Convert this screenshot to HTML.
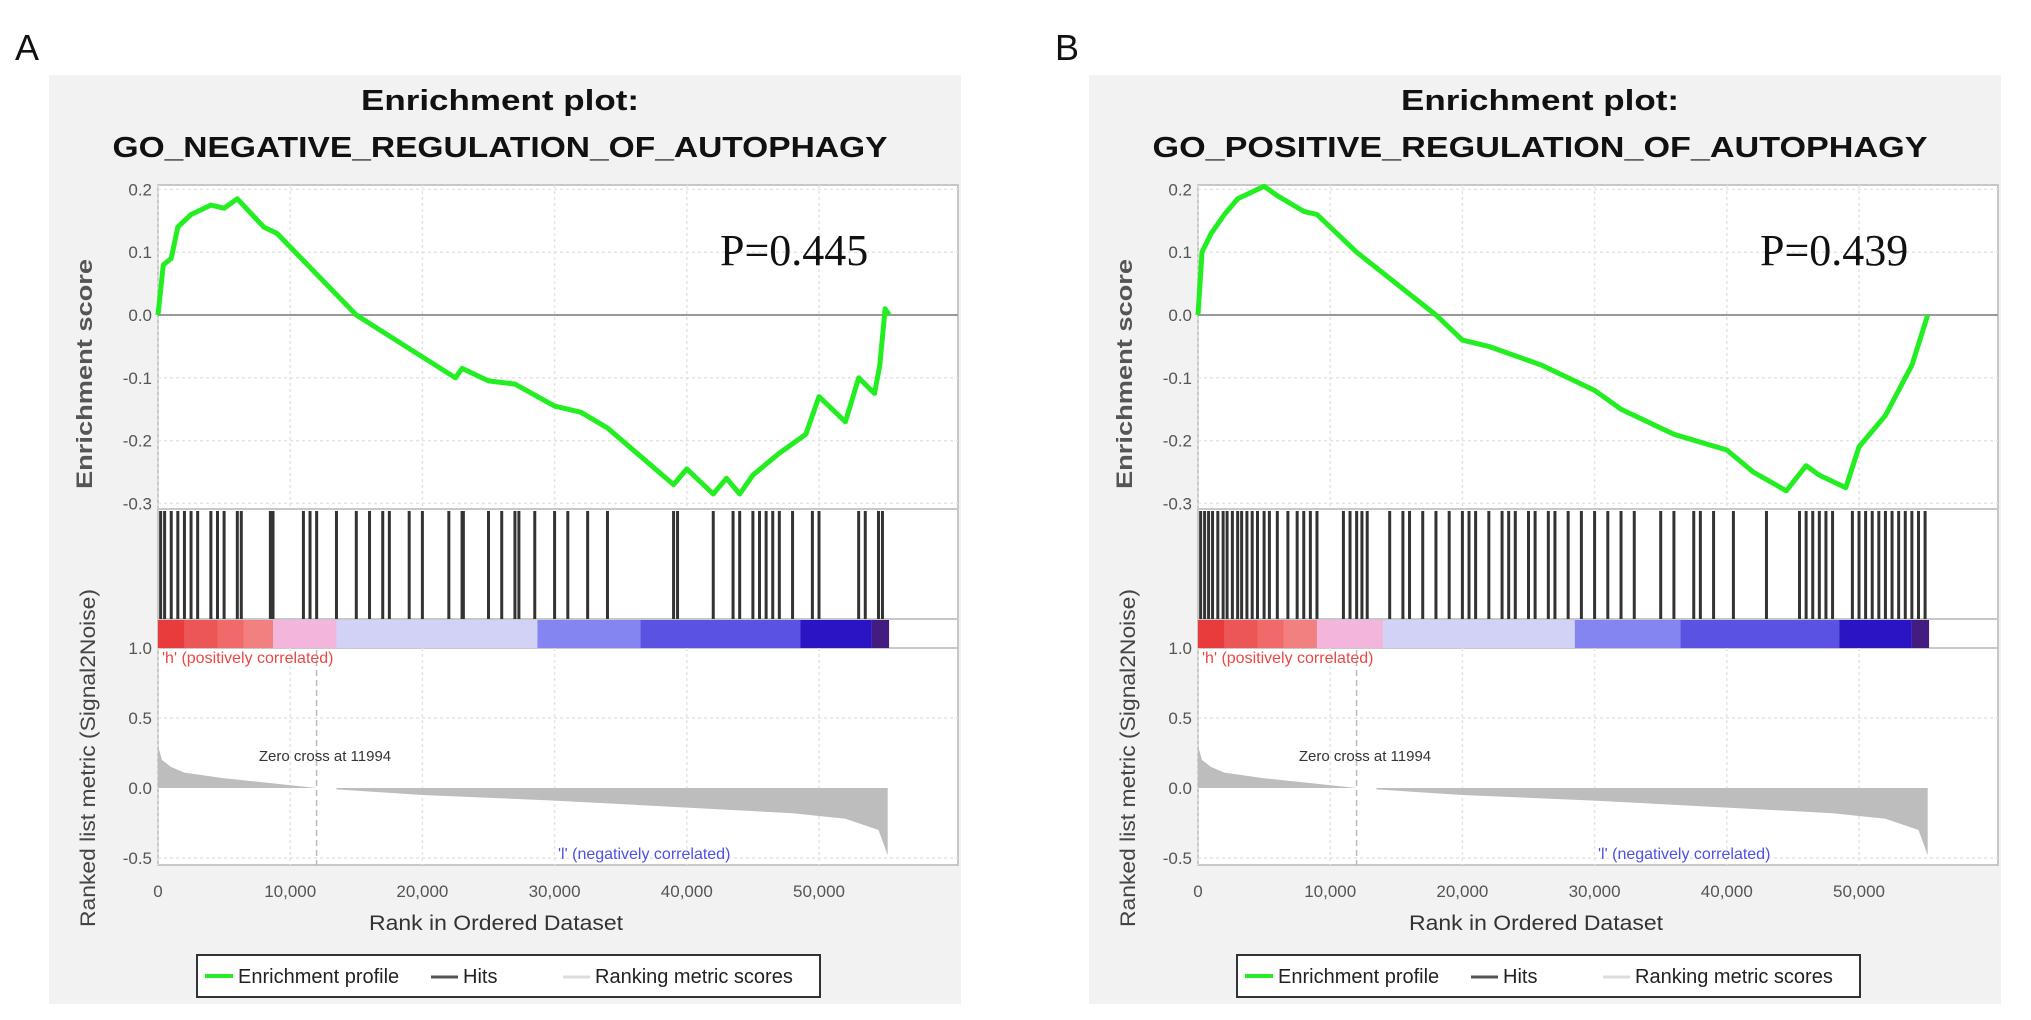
<!DOCTYPE html>
<html><head><meta charset="utf-8"><style>
html,body{margin:0;padding:0;background:#fff;}
svg{display:block;font-family:"Liberation Sans",Arial,sans-serif;}
</style></head><body>
<svg id="fig" width="2031" height="1020" viewBox="0 0 2031 1020" xmlns="http://www.w3.org/2000/svg"></svg>
<script>
// ---- data (rank in thousands) ----
const xTicks = [0, 10000, 20000, 30000, 40000, 50000];
const xTickLabels = ["0", "10,000", "20,000", "30,000", "40,000", "50,000"];
const esTicks = [0.2, 0.1, 0.0, -0.1, -0.2, -0.3];
const esTickLabels = ["0.2", "0.1", "0.0", "-0.1", "-0.2", "-0.3"];
const metricTicks = [1.0, 0.5, 0.0, -0.5];
const metricTickLabels = ["1.0", "0.5", "0.0", "-0.5"];

const titlesA = ["Enrichment plot:", "GO_NEGATIVE_REGULATION_OF_AUTOPHAGY"];
const titlesB = ["Enrichment plot:", "GO_POSITIVE_REGULATION_OF_AUTOPHAGY"];
const pValueA = "P=0.445";
const pValueB = "P=0.439";

const esRankA = [0,0.4,1,1.5,2.5,4,5,6,8,9,15,22.5,23,25,27,30,32,34,39,40,42,43,44,45,47,49,50,52,53,54.2,54.6,55,55.3];
const esValA  = [0,0.08,0.09,0.14,0.16,0.175,0.17,0.185,0.14,0.13,0.0,-0.1,-0.085,-0.105,-0.11,-0.145,-0.155,-0.18,-0.27,-0.245,-0.285,-0.26,-0.285,-0.255,-0.22,-0.19,-0.13,-0.17,-0.1,-0.125,-0.08,0.01,0.0];
const esRankB = [0,0.3,1,2,3,4,5,6,8,9,12,18,20,22,26,30,32,36,40,42,44.5,46,47,49,50,52,54,55.2];
const esValB  = [0,0.1,0.13,0.16,0.185,0.195,0.205,0.19,0.165,0.16,0.1,0.0,-0.04,-0.05,-0.08,-0.12,-0.15,-0.19,-0.215,-0.25,-0.28,-0.24,-0.255,-0.275,-0.21,-0.16,-0.08,0.0];

const hitsA = [0.2,0.5,1,1.5,2,2.5,3,4,4.5,5,6,6.3,8.5,8.7,11,11.5,12,13.5,15,16,17,17.5,19,20,22,23,23.1,25,26,27,27.3,28.5,30,31,32.5,34,39,39.3,42,43.5,44,45,45.5,46,46.5,47,48,49.5,50,53,53.5,54.5,54.8];
const hitsB = [0.2,0.5,0.8,1.1,1.5,1.9,2.2,2.6,3,3.3,3.7,4.1,4.5,5,5.4,6,6.8,7.5,8,8.5,9,11,11.5,12,12.4,12.8,14.5,15.5,16,17,18,19,20,20.5,21,22,23,23.5,24,25,25.5,26.5,27,28,29,30,31,32,33,35,36,37.5,38,39,40.5,43,45.5,46,46.5,47,47.5,48,49.5,50,50.5,51,51.5,52,52.5,53,53.5,54,54.5,55];

const bandStartsA = [0,2,4.5,6.5,8.7,13.5,28.7,36.5,48.6,54];
const bandEndsA   = [2,4.5,6.5,8.7,13.5,28.7,36.5,48.6,54,55.3];
const bandStartsB = [0,2,4.5,6.5,9,14,28.5,36.5,48.5,54];
const bandEndsB   = [2,4.5,6.5,9,14,28.5,36.5,48.5,54,55.3];
const bandColors  = ["#e83c3c","#ec5656","#f06a6a","#f28080","#f3b5db","#d2d2f6","#8585f2","#5a52e2","#2a14c4","#421c7e"];

const metricRank = [0,0.3,1,2,5,8,11.99,13.5,20,30,40,48,52,54.5,55.2];
const metricVal  = [0.3,0.2,0.15,0.11,0.07,0.04,0.0,-0.01,-0.05,-0.09,-0.14,-0.18,-0.22,-0.3,-0.48];
const zeroCross = 11.994;

// ---- drawing ----
const NS = "http://www.w3.org/2000/svg";
const svg = document.getElementById("fig");
function mk(tag, attrs, parent, text) {
  const e = document.createElementNS(NS, tag);
  for (const k in attrs) e.setAttribute(k, attrs[k]);
  if (text !== undefined) e.textContent = text;
  (parent || svg).appendChild(e);
  return e;
}

function drawPanel(off, letter, titles, pval, esRank, esVal, hits, bStart, bEnd, name) {
  const g = mk("g", {}, svg);
  
  
  const L = 158 + off, R = 958 + off;
  const xs = r => L + r * 13.22;
  const xsRaw = v => xs(v / 1000);
  const yES = v => 315 - v * 628;
  const yM = v => 788 - v * 140;

  const lt = mk("text", {x: 15 + off, y: 60, "font-size": 36, fill: "#111"}, g, letter);
  
  

  const bg = mk("rect", {x: 49 + off, y: 75, width: 912, height: 929, fill: "#f2f2f2"}, g);
  
  

  const t1 = mk("text", {x: 500 + off, y: 110, "font-size": 29, "font-weight": "bold", "text-anchor": "middle", fill: "#111", textLength: 278, lengthAdjust: "spacingAndGlyphs"}, g, titles[0]);
  
  
  const t2 = mk("text", {x: 500 + off, y: 157, "font-size": 29, "font-weight": "bold", "text-anchor": "middle", fill: "#111", textLength: 775, lengthAdjust: "spacingAndGlyphs"}, g, titles[1]);
  
  

  const pa = mk("rect", {x: L, y: 185, width: R - L, height: 463, fill: "#fff", stroke: "#c8c8c8", "stroke-width": 2}, g);
  
  
  const pb = mk("rect", {x: L, y: 648, width: R - L, height: 217, fill: "#fff", stroke: "#c8c8c8", "stroke-width": 2}, g);
  
  
  mk("line", {x1: L, x2: R, y1: 509, y2: 509, stroke: "#c8c8c8", "stroke-width": 2}, g);
  mk("line", {x1: L, x2: R, y1: 619, y2: 619, stroke: "#c8c8c8", "stroke-width": 2}, g);

  xTicks.forEach(v => {
    mk("line", {x1: xsRaw(v), x2: xsRaw(v), y1: 185, y2: 509, stroke: "#e4e4e4", "stroke-width": 1.5, "stroke-dasharray": "3,3"}, g);
    mk("line", {x1: xsRaw(v), x2: xsRaw(v), y1: 648, y2: 865, stroke: "#e4e4e4", "stroke-width": 1.5, "stroke-dasharray": "3,3"}, g);
  });
  esTicks.forEach((v, i) => {
    if (v !== 0) mk("line", {x1: L, x2: R, y1: yES(v), y2: yES(v), stroke: "#e4e4e4", "stroke-width": 1.5, "stroke-dasharray": "3,3"}, g);
    const tl = mk("text", {x: L - 6, y: yES(v) + 6, "font-size": 17, "text-anchor": "end", fill: "#555"}, g, esTickLabels[i]);
    
    
  });
  mk("line", {x1: L, x2: R, y1: yES(0), y2: yES(0), stroke: "#999", "stroke-width": 2}, g);
  metricTicks.forEach((v, i) => {
    if (v === 0.5 || v === -0.5) mk("line", {x1: L, x2: R, y1: yM(v), y2: yM(v), stroke: "#e4e4e4", "stroke-width": 1.5, "stroke-dasharray": "3,3"}, g);
    const tl = mk("text", {x: L - 6, y: yM(v) + 6, "font-size": 17, "text-anchor": "end", fill: "#555"}, g, metricTickLabels[i]);
    
    
  });
  xTicks.forEach((v, i) => {
    const tl = mk("text", {x: xsRaw(v), y: 897, "font-size": 17, "text-anchor": "middle", fill: "#555"}, g, xTickLabels[i]);
    
    
  });

  const pts = esRank.map((r, i) => xs(r).toFixed(1) + "," + yES(esVal[i]).toFixed(1)).join(" ");
  const es = mk("polyline", {points: pts, fill: "none", stroke: "#22ee22", "stroke-width": 5, "stroke-linejoin": "round"}, g);
  
  

  const pt = mk("text", {x: 720 + off, y: 265, "font-size": 44, "font-family": "Liberation Serif, serif", fill: "#111"}, g, pval);
  
  

  hits.forEach(h => {
    const ln = mk("line", {x1: xs(h), x2: xs(h), y1: 511, y2: 619, stroke: "#333", "stroke-width": 3}, g);
    
    
  });

  bStart.forEach((s, i) => {
    const rc = mk("rect", {x: xs(s), y: 620, width: xs(bEnd[i]) - xs(s), height: 28, fill: bandColors[i]}, g);
    
    
  });

  let d = "M" + xs(0) + "," + yM(0);
  metricRank.forEach((r, i) => { d += " L" + xs(r).toFixed(1) + "," + yM(metricVal[i]).toFixed(1); });
  d += " L" + xs(metricRank[metricRank.length - 1]).toFixed(1) + "," + yM(0) + " Z";
  const ma = mk("path", {d: d, fill: "#bdbdbd"}, g);
  
  
  mk("rect", {x: xs(zeroCross) - 2, y: yM(0) - 6, width: xs(13.5) - xs(zeroCross) + 2, height: 14, fill: "#fff"}, g);
  const zc = mk("line", {x1: xs(zeroCross), x2: xs(zeroCross), y1: 650, y2: 865, stroke: "#bbb", "stroke-width": 1.5, "stroke-dasharray": "6,4"}, g);
  
  
  const zt = mk("text", {x: 325 + off, y: 761, "font-size": 15, "text-anchor": "middle", fill: "#333"}, g, "Zero cross at 11994");
  
  
  const hp = mk("text", {x: 162 + off, y: 663, "font-size": 16, fill: "#e84848"}, g, "'h' (positively correlated)");
  
  
  const ln2 = mk("text", {x: 558 + off, y: 859, "font-size": 16, fill: "#5050e8"}, g, "'l' (negatively correlated)");
  
  

  const y1 = mk("text", {x: 0, y: 0, "font-size": 22, "font-weight": "bold", "text-anchor": "middle", fill: "#555", transform: "translate(" + (92 + off) + ",374) rotate(-90)", textLength: 230, lengthAdjust: "spacingAndGlyphs"}, g, "Enrichment score");
  
  
  const y2 = mk("text", {x: 0, y: 0, "font-size": 21, "text-anchor": "middle", fill: "#444", transform: "translate(" + (95 + off) + ",758) rotate(-90)", textLength: 338, lengthAdjust: "spacingAndGlyphs"}, g, "Ranked list metric (Signal2Noise)");
  
  
  const xt = mk("text", {x: 496 + off, y: 930, "font-size": 21, "text-anchor": "middle", fill: "#333", textLength: 254, lengthAdjust: "spacingAndGlyphs"}, g, "Rank in Ordered Dataset");
  
  

  const lg = mk("g", {}, g);
  
  
  mk("rect", {x: 197 + off, y: 955, width: 623, height: 42, fill: "#fff", stroke: "#333", "stroke-width": 2}, lg);
  mk("line", {x1: 205 + off, x2: 233 + off, y1: 976, y2: 976, stroke: "#22ee22", "stroke-width": 4}, lg);
  const e1 = mk("text", {x: 238 + off, y: 983, "font-size": 20, fill: "#222"}, lg, "Enrichment profile");
  
  
  mk("line", {x1: 431 + off, x2: 458 + off, y1: 977, y2: 977, stroke: "#555", "stroke-width": 3}, lg);
  const e2 = mk("text", {x: 463 + off, y: 983, "font-size": 20, fill: "#222"}, lg, "Hits");
  
  
  mk("line", {x1: 563 + off, x2: 590 + off, y1: 977, y2: 977, stroke: "#ddd", "stroke-width": 3}, lg);
  const e3 = mk("text", {x: 595 + off, y: 983, "font-size": 20, fill: "#222"}, lg, "Ranking metric scores");
  
  
}

drawPanel(0, "A", titlesA, pValueA, esRankA, esValA, hitsA, bandStartsA, bandEndsA, "a");
drawPanel(1040, "B", titlesB, pValueB, esRankB, esValB, hitsB, bandStartsB, bandEndsB, "b");
</script>
</body></html>
